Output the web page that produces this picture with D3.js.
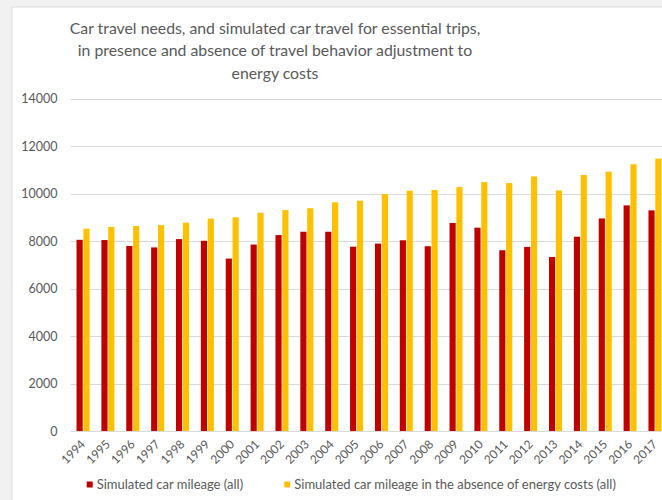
<!DOCTYPE html>
<html>
<head>
<meta charset="utf-8">
<script src="https://cdn.jsdelivr.net/npm/d3@7"></script>
<style>
  html, body { margin: 0; padding: 0; background: #f1f1f1; }
  svg { display: block; }
  text { font-family: Lato, "Open Sans", sans-serif; }
</style>
</head>
<body>
<svg id="chart" width="662" height="500"></svg>
<script>
// Years on the category axis
const years = ["1994","1995","1996","1997","1998","1999","2000","2001","2002","2003","2004","2005",
               "2006","2007","2008","2009","2010","2011","2012","2013","2014","2015","2016","2017"];

// Simulated car mileage (all)
const mileage = [8050, 8040, 7790, 7730, 8080, 8010, 7260, 7850, 8250, 8390, 8390, 7760,
                 7890, 8030, 7780, 8760, 8560, 7610, 7750, 7330, 8180, 8950, 9500, 9290];

// Simulated car mileage in the absence of energy costs (all)
const mileageNoCost = [8520, 8590, 8630, 8670, 8770, 8940, 9000, 9190, 9300, 9380, 9630, 9700,
                       9980, 10120, 10150, 10270, 10480, 10440, 10720, 10130, 10780, 10920, 11230, 11470];

const yTicks = [0, 2000, 4000, 6000, 8000, 10000, 12000, 14000];

const seriesNames = ["Simulated car mileage (all)",
                     "Simulated car mileage in the absence of energy costs (all)"];
const seriesColors = ["#c00000", "#ffc000"];

const titleLines = ["Car travel needs, and simulated car travel for essential trips,",
                    "in presence and absence of travel behavior adjustment to",
                    "energy costs"];

const rows = years.map((y, i) => ({ year: y, values: [mileage[i], mileageNoCost[i]] }));

const svg = d3.select("#chart");

// White chart panel
svg.append("rect")
  .attr("x", 12).attr("y", 7).attr("width", 660).attr("height", 500)
  .attr("fill", "#ffffff").attr("stroke", "#dcdcdc").attr("stroke-width", 1);

const plot = { left: 70.6, right: 667.4, top: 98.5, bottom: 431 };

const y = d3.scaleLinear().domain([0, 14000]).range([plot.bottom, plot.top]);

const x0 = d3.scaleBand().domain(years).range([plot.left, plot.right])
  .paddingInner(0.477).paddingOuter(0.2385);
const x1 = d3.scaleBand().domain([0, 1]).range([0, x0.bandwidth()]).paddingInner(0.1);

// Gridlines
svg.append("g")
  .selectAll("line").data(yTicks).join("line")
  .attr("x1", plot.left).attr("x2", plot.right)
  .attr("y1", d => Math.round(y(d)) + 0.5).attr("y2", d => Math.round(y(d)) + 0.5)
  .attr("stroke", "#d9d9d9").attr("stroke-width", 1);

// Y axis labels
const yAxis = d3.axisLeft(y).tickValues(yTicks).tickSize(0).tickPadding(13).tickFormat(d3.format("d"));
svg.append("g")
  .attr("transform", `translate(${plot.left},0)`)
  .call(yAxis)
  .call(g => g.select(".domain").remove())
  .call(g => g.selectAll("text").attr("fill", "#595959").style("font-size", "12.5px")
                .style("font-family", "Lato, 'Open Sans', sans-serif"));

// Bars
const groups = svg.append("g").selectAll("g").data(rows).join("g")
  .attr("transform", d => `translate(${x0(d.year)},0)`);

groups.selectAll("rect").data(d => d.values.map((v, k) => ({ v, k }))).join("rect")
  .attr("x", d => x1(d.k))
  .attr("width", x1.bandwidth())
  .attr("y", d => y(d.v))
  .attr("height", d => y(0) - y(d.v))
  .attr("fill", d => seriesColors[d.k]);

// X axis labels, rotated
const xAxis = d3.axisBottom(x0).tickSize(0).tickPadding(0);
svg.append("g")
  .attr("transform", `translate(0,${plot.bottom})`)
  .call(xAxis)
  .call(g => g.select(".domain").remove())
  .call(g => g.selectAll("text")
    .attr("fill", "#595959")
    .style("font-size", "12px")
    .style("font-family", "Lato, 'Open Sans', sans-serif")
    .attr("text-anchor", "end")
    .attr("y", 0).attr("dy", 0)
    .attr("transform", "translate(3,14) rotate(-45)"));

// Title
svg.append("g").selectAll("text").data(titleLines).join("text")
  .attr("x", 275)
  .attr("y", (d, i) => 34 + i * 22.3)
  .attr("text-anchor", "middle")
  .attr("fill", "#595959")
  .style("font-size", "15.8px")
  .text(d => d);

// Legend
const legendX = [86.7, 284.3];
const legend = svg.append("g").selectAll("g").data(seriesNames).join("g")
  .attr("transform", (d, i) => `translate(${legendX[i]},0)`);
legend.append("rect")
  .attr("x", 0).attr("y", 481.5).attr("width", 6).attr("height", 6)
  .attr("fill", (d, i) => seriesColors[i]);
legend.append("text")
  .attr("x", 10).attr("y", 488.5)
  .attr("fill", "#595959")
  .style("font-size", "13px")
  .text(d => d);
</script>
</body>
</html>
